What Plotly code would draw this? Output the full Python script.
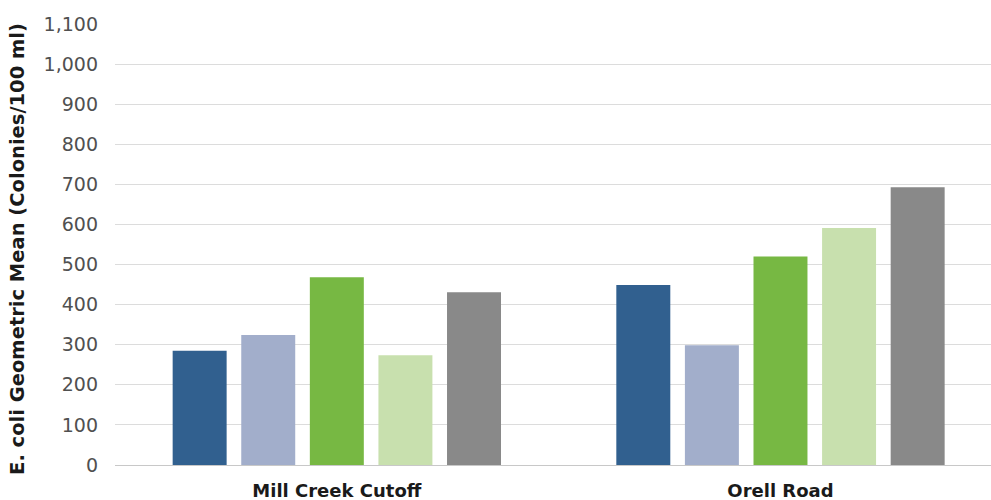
import plotly.graph_objects as go

categories = ["Mill Creek Cutoff", "Orell Road"]
series_names = ["Series 1", "Series 2", "Series 3", "Series 4", "Series 5"]
series_values = [
    [285, 449],
    [324, 299],
    [468, 520],
    [274, 591],
    [431, 693],
]
colors = ["#31608F", "#A2AECB", "#77B843", "#C8E0AE", "#898989"]
y_ticks = list(range(0, 1101, 100))
y_tick_labels = [f"{v:,}" for v in y_ticks]
y_title = "E. coli Geometric Mean (Colonies/100 ml)"

fig = go.Figure()
for name, vals, c in zip(series_names, series_values, colors):
    fig.add_trace(go.Bar(x=categories, y=vals, name=name, marker_color=c,
                         marker_line_width=0))

fig.update_layout(
    width=991, height=500,
    margin=dict(l=115, r=0, t=24, b=35),
    paper_bgcolor="white", plot_bgcolor="white",
    barmode="group", bargap=0.227, bargroupgap=0.213,
    showlegend=False,
    font=dict(family="DejaVu Sans, sans-serif", color="#404040"),
)
fig.update_xaxes(
    range=[-0.5, 1.4745], automargin=False,
    tickfont=dict(size=18, color="#1a1a1a", family="DejaVu Sans", weight="bold"),
    showgrid=False, showline=False, ticks="", ticklabelstandoff=13,
)
fig.update_yaxes(
    range=[0, 1100], automargin=False,
    tickvals=y_ticks, ticktext=y_tick_labels,
    tickfont=dict(size=19, color="#505050", family="DejaVu Sans"),
    gridcolor="#dcdcdc", gridwidth=1,
    zeroline=True, zerolinecolor="#c8c8c8", zerolinewidth=1,
    ticks="", ticklabelstandoff=16,
)
fig.add_annotation(
    text=y_title, xref="paper", yref="paper", x=(18 - 115) / 876, y=0.49,
    xanchor="center", yanchor="middle", textangle=-90, showarrow=False,
    font=dict(size=19.5, color="#1a1a1a", family="DejaVu Sans", weight="bold"),
)

fig.write_html(
    "out.html",
    config={"displayModeBar": False},
    post_script="document.body.style.margin='0px';document.body.style.overflow='hidden';",
)
